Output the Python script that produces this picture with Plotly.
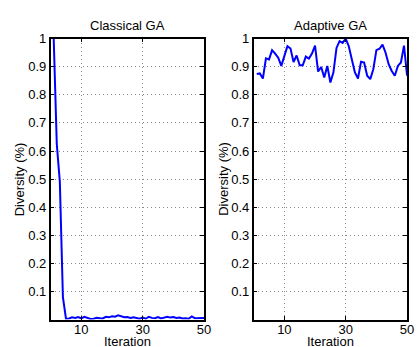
import plotly.graph_objects as go

iterations = list(range(1, 51))

classical_ga = [1.0, 0.625, 0.49, 0.08, 0.003, 0.004, 0.008, 0.006, 0.009, 0.004,
                0.010, 0.006, 0.002, 0.003, 0.006, 0.005, 0.004, 0.010, 0.008, 0.012,
                0.010, 0.015, 0.011, 0.008, 0.009, 0.006, 0.008, 0.005, 0.003, 0.007,
                0.003, 0.010, 0.006, 0.005, 0.009, 0.004, 0.008, 0.010, 0.007, 0.009,
                0.006, 0.007, 0.004, 0.005, 0.003, 0.011, 0.005, 0.006, 0.006, 0.006]

adaptive_ga = [0.874, 0.876, 0.858, 0.930, 0.926, 0.959, 0.947, 0.932, 0.903, 0.938,
               0.973, 0.965, 0.917, 0.940, 0.905, 0.905, 0.936, 0.929, 0.947, 0.975,
               0.883, 0.899, 0.862, 0.903, 0.844, 0.880, 0.967, 0.991, 0.985, 1.000,
               0.973, 0.926, 0.880, 0.858, 0.918, 0.915, 0.868, 0.856, 0.891, 0.959,
               0.964, 0.979, 0.950, 0.909, 0.885, 0.868, 0.903, 0.915, 0.975, 0.868]

titles = ["Classical GA", "Adaptive GA"]
x_tickvals = [10, 30, 50]
y_tickvals = [0.1, 0.2, 0.3, 0.4, 0.5, 0.6, 0.7, 0.8, 0.9, 1.0]
y_ticktext = ["0.1", "0.2", "0.3", "0.4", "0.5", "0.6", "0.7", "0.8", "0.9", "1"]
x_label = "Iteration"
y_label = "Diversity (%)"

W, H = 418, 347
FONT = "Liberation Sans, Arial, Helvetica, sans-serif"

fig = go.Figure()
fig.add_trace(go.Scatter(x=iterations, y=classical_ga, mode="lines",
                         line=dict(color="#0000ff", width=2), xaxis="x", yaxis="y",
                         showlegend=False, cliponaxis=True, hoverinfo="skip"))
fig.add_trace(go.Scatter(x=iterations, y=adaptive_ga, mode="lines",
                         line=dict(color="#0000ff", width=2), xaxis="x2", yaxis="y2",
                         showlegend=False, cliponaxis=True, hoverinfo="skip"))

dom_left = [51.5 / W, 207.5 / W]
dom_right = [258 / W, 414 / W]
dom_y = [1 - 319 / H, 1 - 32.3 / H]

axis_common = dict(showline=True, linecolor="black", linewidth=1.5, mirror="ticks",
                   ticks="inside", ticklen=4, tickcolor="black", tickwidth=1,
                   showgrid=True, gridcolor="#888888", griddash="1px,3px", gridwidth=1,
                   zeroline=False, tickfont=dict(family=FONT, size=13, color="black"))

fig.update_layout(
    width=W, height=H, margin=dict(l=0, r=0, t=0, b=0),
    paper_bgcolor="white", plot_bgcolor="white",
    font=dict(family=FONT, size=13, color="black"),
    xaxis=dict(domain=dom_left, range=[0, 50], tickvals=x_tickvals, anchor="y",
               ticklabelstandoff=-3, **axis_common),
    yaxis=dict(domain=dom_y, range=[0, 1], tickvals=y_tickvals, ticktext=y_ticktext,
               anchor="x", **axis_common),
    xaxis2=dict(domain=dom_right, range=[0, 50], tickvals=x_tickvals, anchor="y2",
                ticklabelstandoff=-3, **axis_common),
    yaxis2=dict(domain=dom_y, range=[0, 1], tickvals=y_tickvals, ticktext=y_ticktext,
                anchor="x2", **axis_common),
)

anns = []
for dom, title in zip([dom_left, dom_right], titles):
    cx = (dom[0] + dom[1]) / 2
    anns.append(dict(text=title, x=cx, y=1 - 18.5 / H, xref="paper", yref="paper",
                     showarrow=False, xanchor="center", yanchor="middle",
                     font=dict(family=FONT, size=13, color="black")))
    anns.append(dict(text=x_label, x=cx, y=1 - 341 / H, xref="paper", yref="paper",
                     showarrow=False, xanchor="center", yanchor="middle",
                     font=dict(family=FONT, size=13, color="black")))
for px in [19.5, 226.5]:
    anns.append(dict(text=y_label, x=px / W, y=(dom_y[0] + dom_y[1]) / 2, xref="paper",
                     yref="paper", showarrow=False, textangle=-90, xanchor="center",
                     yanchor="middle", font=dict(family=FONT, size=13, color="black")))
fig.update_layout(annotations=anns)

fig.write_html("out.html", config={"displayModeBar": False},
               post_script="document.body.style.margin='0';document.body.style.padding='0';"
                           "document.documentElement.style.overflow='hidden';")
